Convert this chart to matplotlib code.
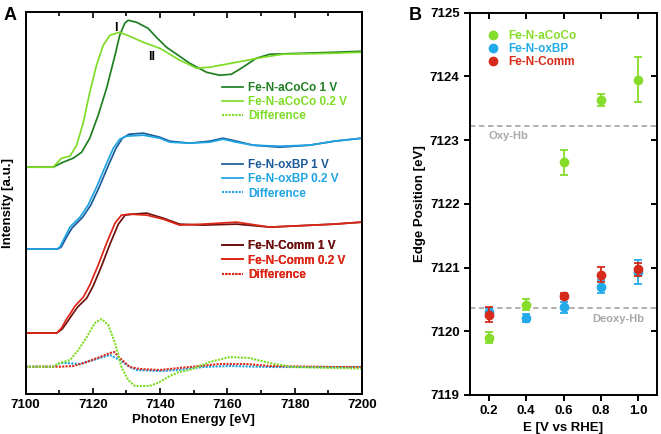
import numpy as np
import matplotlib
matplotlib.use('Agg')
import matplotlib.pyplot as plt
from matplotlib.ticker import MultipleLocator

plt.rcParams['font.family'] = ['Liberation Sans', 'DejaVu Sans']
plt.rcParams['font.weight'] = 'bold'
plt.rcParams['axes.labelweight'] = 'bold'

# ---- panel A: XANES spectra (a.u. with offsets) ----
e_acoco_1v = [7100, 7108.2, 7111.2, 7114.2, 7116.7, 7119.1, 7121.6, 7124.1, 7126.6, 7128.0, 7129.5,
              7130.5, 7133.0, 7136.4, 7138.9, 7141.9, 7145.8, 7148.8, 7153.8, 7157.7, 7161.2, 7164.6,
              7168.6, 7172.6, 7182.3, 7191.8, 7200]
i_acoco_1v = [2.27, 2.27, 2.32, 2.36, 2.42, 2.56, 2.79, 3.06, 3.39, 3.59, 3.71,
              3.74, 3.72, 3.66, 3.57, 3.47, 3.38, 3.31, 3.22, 3.19, 3.20, 3.27,
              3.36, 3.40, 3.41, 3.42, 3.43]

e_acoco_02v = [7100, 7108.2, 7110.7, 7113.2, 7115.2, 7117.2, 7119.1, 7121.1, 7123.1, 7125.1, 7128.0,
               7131.0, 7135.0, 7139.9, 7142.9, 7145.8, 7147.8, 7150.8, 7154.7, 7162.7, 7170.6, 7176.4,
               7191.8, 7200]
i_acoco_02v = [2.27, 2.27, 2.36, 2.38, 2.49, 2.72, 3.02, 3.29, 3.49, 3.59, 3.62,
               3.58, 3.52, 3.46, 3.40, 3.34, 3.31, 3.26, 3.27, 3.32, 3.37, 3.40,
               3.41, 3.42]

e_oxbp_02v = [7100, 7109.3, 7110.2, 7111.7, 7113.2, 7116.2, 7118.6, 7121.1, 7123.6, 7126.1, 7128.0,
              7130.0, 7135.0, 7139.9, 7142.9, 7148.8, 7154.7, 7158.7, 7162.7, 7167.6, 7175.5, 7184.4,
              7191.8, 7200]
i_oxbp_02v = [1.45, 1.45, 1.47, 1.57, 1.67, 1.77, 1.89, 2.07, 2.27, 2.46, 2.55,
              2.58, 2.59, 2.56, 2.52, 2.51, 2.52, 2.55, 2.52, 2.49, 2.48, 2.49,
              2.53, 2.56]

e_oxbp_1v = [7100, 7109.5, 7110.6, 7112.2, 7113.8, 7117.0, 7119.4, 7121.9, 7124.4, 7126.9, 7128.8,
             7130.8, 7135.0, 7139.9, 7142.9, 7148.8, 7154.7, 7158.7, 7162.7, 7167.6, 7175.5, 7184.4,
             7191.8, 7200]
i_oxbp_1v = [1.45, 1.45, 1.47, 1.57, 1.66, 1.77, 1.89, 2.07, 2.27, 2.46, 2.56,
             2.60, 2.61, 2.57, 2.53, 2.51, 2.53, 2.56, 2.53, 2.49, 2.47, 2.49,
             2.53, 2.56]

e_comm_02v = [7100, 7109.3, 7110.7, 7112.2, 7113.4, 7114.7, 7117.2, 7119.1, 7121.6, 7124.1, 7126.6,
              7128.5, 7131.0, 7136.0, 7140.9, 7145.8, 7152.8, 7162.7, 7172.6, 7191.8, 7200]
i_comm_02v = [0.61, 0.61, 0.66, 0.75, 0.81, 0.88, 0.97, 1.09, 1.29, 1.51, 1.71,
              1.79, 1.80, 1.79, 1.75, 1.69, 1.70, 1.72, 1.67, 1.70, 1.72]

e_comm_1v = [7100, 7109.3, 7110.9, 7112.6, 7114.0, 7115.5, 7118.2, 7120.1, 7122.6, 7125.1, 7127.6,
             7129.6, 7132.0, 7136.0, 7140.9, 7145.8, 7152.8, 7162.7, 7172.6, 7191.8, 7200]
i_comm_1v = [0.61, 0.61, 0.65, 0.73, 0.80, 0.87, 0.96, 1.08, 1.28, 1.50, 1.70,
             1.79, 1.80, 1.81, 1.76, 1.70, 1.69, 1.70, 1.67, 1.70, 1.72]

e_diff_acoco = [7100, 7108.2, 7110.2, 7113.2, 7115.7, 7118.2, 7120.6, 7122.6, 7124.6, 7126.6, 7128.5,
                7130.5, 7132.5, 7136.9, 7139.9, 7142.9, 7145.6, 7148.8, 7154.7, 7160.7, 7166.6, 7172.6,
                7179.5, 7191.8, 7200]
i_diff_acoco = [0.273, 0.273, 0.31, 0.34, 0.44, 0.57, 0.71, 0.75, 0.69, 0.51, 0.27,
                0.14, 0.08, 0.08, 0.12, 0.18, 0.22, 0.24, 0.32, 0.37, 0.36, 0.31,
                0.27, 0.26, 0.255]

e_diff_comm = [7100, 7110.2, 7114.2, 7118.2, 7122.1, 7125.1, 7126.4, 7128.0, 7131.0, 7134.0, 7139.9,
               7145.6, 7148.8, 7157.7, 7165.6, 7172.6, 7191.8, 7200]
i_diff_comm = [0.273, 0.273, 0.28, 0.32, 0.37, 0.41, 0.42, 0.36, 0.27, 0.25, 0.24,
               0.26, 0.27, 0.30, 0.30, 0.28, 0.27, 0.27]

e_diff_oxbp = [7100, 7108.2, 7110.2, 7112.2, 7116.2, 7120.1, 7124.1, 7125.1, 7128.0, 7131.0, 7133.0,
               7139.9, 7145.6, 7152.7, 7160.7, 7172.6, 7191.8, 7200]
i_diff_oxbp = [0.273, 0.273, 0.31, 0.31, 0.30, 0.34, 0.38, 0.39, 0.34, 0.27, 0.24,
               0.23, 0.24, 0.27, 0.28, 0.27, 0.27, 0.27]

# ---- panel B: edge positions ----
potential = [0.2, 0.4, 0.6, 0.8, 1.0]
edge_acoco = [7119.9, 7120.42, 7122.65, 7123.63, 7123.95]
err_acoco = [0.086, 0.09, 0.195, 0.1, 0.35]
edge_oxbp = [7120.30, 7120.21, 7120.38, 7120.70, 7120.93]
err_oxbp = [0.07, 0.065, 0.087, 0.1, 0.19]
edge_comm = [7120.26, np.nan, 7120.55, 7120.89, 7120.97]
err_comm = [0.12, np.nan, 0.05, 0.12, 0.1]
oxy_hb = 7123.22
deoxy_hb = 7120.37

c_dgreen = '#1f7f22'
c_lgreen = '#7fdc26'
c_dblue = '#1b5a97'
c_lblue = '#1ea3e3'
c_maroon = '#6c1010'
c_red = '#dd2616'
dots = (0, (1, 0.6))

fig = plt.figure(figsize=(6.61, 4.34), dpi=100)
axA = fig.add_axes([0.0386, 0.0922, 0.509, 0.8795])
axB = fig.add_axes([0.711, 0.0899, 0.283, 0.8808])

lw = 1.25
h1 = axA.plot(e_acoco_1v, i_acoco_1v, color=c_dgreen, lw=lw, label='Fe-N-aCoCo 1 V')[0]
h2 = axA.plot(e_acoco_02v, i_acoco_02v, color=c_lgreen, lw=lw, label='Fe-N-aCoCo 0.2 V')[0]
h4 = axA.plot(e_oxbp_1v, i_oxbp_1v, color=c_dblue, lw=lw, label='Fe-N-oxBP 1 V')[0]
h5 = axA.plot(e_oxbp_02v, i_oxbp_02v, color=c_lblue, lw=lw, label='Fe-N-oxBP 0.2 V')[0]
h7 = axA.plot(e_comm_1v, i_comm_1v, color=c_maroon, lw=lw, label='Fe-N-Comm 1 V')[0]
h8 = axA.plot(e_comm_02v, i_comm_02v, color=c_red, lw=lw, label='Fe-N-Comm 0.2 V')[0]
h6 = axA.plot(e_diff_oxbp, i_diff_oxbp, color=c_lblue, lw=1.5, ls=dots, label='Difference')[0]
h9 = axA.plot(e_diff_comm, i_diff_comm, color=c_red, lw=1.5, ls=dots, label='Difference')[0]
h3 = axA.plot(e_diff_acoco, i_diff_acoco, color=c_lgreen, lw=1.5, ls=dots, label='Difference')[0]

leg_kw = dict(frameon=False, labelcolor='linecolor', handlelength=1.78,
              handletextpad=0.42, labelspacing=0.2, borderpad=0, borderaxespad=0,
              loc='upper left', prop={'weight': 'bold', 'size': 8.5})
for hs, ypos in [([h1, h2, h3], 0.818), ([h4, h5, h6], 0.616), ([h7, h8, h9], 0.403)]:
    lg = axA.legend(handles=hs, bbox_to_anchor=(0.584, ypos), **leg_kw)
    axA.add_artist(lg)

axA.text(7126.8, 3.66, 'I', fontsize=9, ha='center', va='center')
axA.text(7137.4, 3.37, 'II', fontsize=9, ha='center', va='center')

axA.set_xlim(7100, 7200)
axA.set_ylim(0, 3.82)
axA.set_yticks([])
axA.xaxis.set_major_locator(MultipleLocator(20))
axA.xaxis.set_minor_locator(MultipleLocator(10))
axA.tick_params(axis='x', which='both', direction='in', top=True, labelsize=9.5, width=1.2)
axA.tick_params(axis='x', which='major', length=4.5)
axA.tick_params(axis='x', which='minor', length=3)
for s in axA.spines.values():
    s.set_linewidth(1.4)
axA.set_xlabel('Photon Energy [eV]', fontsize=9.5, labelpad=2)
axA.set_ylabel('Intensity [a.u.]', fontsize=9.5, labelpad=8)
fig.canvas.draw()
labs = axA.get_xticklabels()
labs[0].set_ha('left')
labs[-1].set_ha('right')

# ---- panel B ----
axB.axhline(oxy_hb, color='#aaaaaa', lw=1.3, ls=(0, (3, 2)))
axB.axhline(deoxy_hb, color='#aaaaaa', lw=1.3, ls=(0, (3, 2)))
axB.text(0.2, oxy_hb - 0.08, 'Oxy-Hb', color='#a8a8a8', fontsize=8, ha='left', va='top')
axB.text(1.03, deoxy_hb - 0.1, 'Deoxy-Hb', color='#a8a8a8', fontsize=8, ha='right', va='top')

series = [(edge_oxbp, err_oxbp, '#22aaeb', 'Fe-N-oxBP'),
          (edge_comm, err_comm, '#d62a1a', 'Fe-N-Comm'),
          (edge_acoco, err_acoco, '#86dc2a', 'Fe-N-aCoCo')]
handles = {}
for vals, errs, col, name in series:
    axB.errorbar(potential, vals, yerr=errs, fmt='none', ecolor=col, elinewidth=1.3,
                 capsize=3, capthick=1.3)
    handles[name] = axB.plot(potential, vals, 'o', color=col, ms=6, label=name)[0]

axB.legend(handles=[handles['Fe-N-aCoCo'], handles['Fe-N-oxBP'], handles['Fe-N-Comm']],
           frameon=False, labelcolor='markerfacecolor', loc='upper left',
           bbox_to_anchor=(0.1, 0.955), handlelength=0.8, handletextpad=0.85,
           labelspacing=0.1, borderpad=0, borderaxespad=0,
           prop={'weight': 'bold', 'size': 8.5})

axB.set_xlim(0.1, 1.1)
axB.set_ylim(7119, 7125)
axB.set_xticks(potential)
axB.set_xticklabels(['0.2', '0.4', '0.6', '0.8', '1.0'])
axB.set_yticks([7119, 7120, 7121, 7122, 7123, 7124, 7125])
axB.tick_params(axis='both', which='major', direction='out', length=4, width=1.4, labelsize=9.5)
axB.tick_params(top=True, right=True)
for t in axB.xaxis.get_major_ticks():
    t.tick2line.set_marker(3)
for t in axB.yaxis.get_major_ticks():
    t.tick2line.set_marker(0)
for s in axB.spines.values():
    s.set_linewidth(1.4)
axB.set_xlabel('E [V vs RHE]', fontsize=9.5, labelpad=3)
axB.set_ylabel('Edge Position [eV]', fontsize=9.5, labelpad=3)

fig.text(0.005, 0.985, 'A', fontsize=13, weight='bold', va='top')
fig.text(0.618, 0.985, 'B', fontsize=13, weight='bold', va='top')

fig.savefig('out.png', dpi=100)
